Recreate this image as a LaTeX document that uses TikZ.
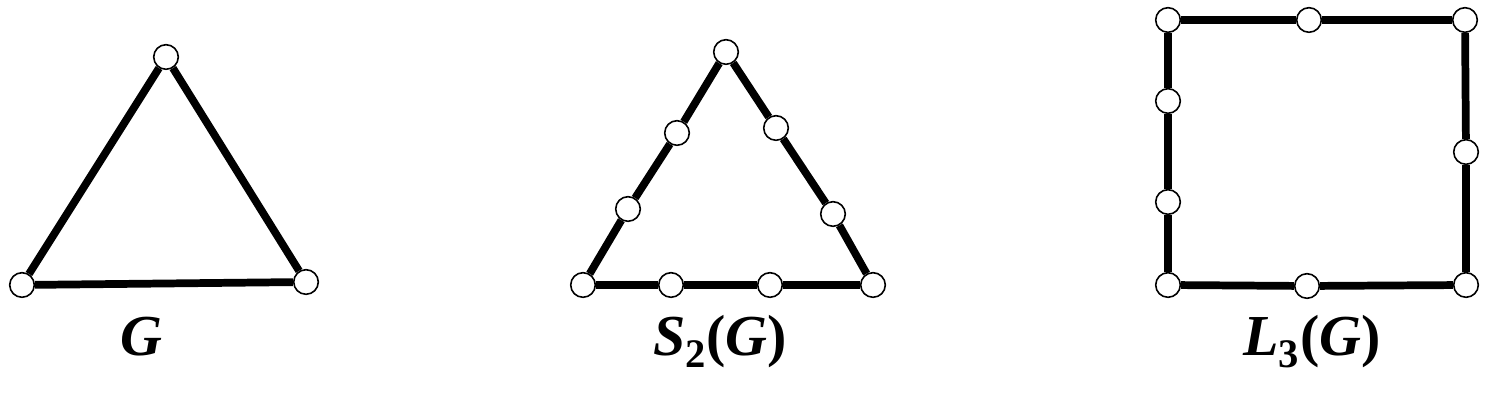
\documentclass[tikz,border=0pt]{standalone}
\usepackage{fontspec}
\setmainfont{Liberation Serif}
\usepackage{tikz}
\usetikzlibrary{positioning, backgrounds}
\tikzset{
vertex/.style = { circle, draw = black, fill = white, line width = 0.9pt, minimum size = 14pt, inner sep = 0pt },
edge/.style = { draw = black, line width = 4.4pt },
graph name/.style = { anchor = base, font = \fontsize{33}{38}\selectfont\bfseries },
}

\begin{document}
\begin{tikzpicture}[x = 0.02cm, y = -0.02cm]
      \useasboundingbox (0, 0) rectangle (1494, 404);
      % G
      \node[vertex] (g1) at (22, 285) {};
      \node[vertex] (g2) at (166, 57) {};
      \node[vertex] (g3) at (306, 282) {};
      \draw[edge] (g1) -- (g2) -- (g3) -- (g1);
      \node[graph name] (gname) at (141, 356) {\textit{G}};
      % S_2(G)
      \node[vertex] (s1) at (583, 285) {};
      \node[vertex] (s2) at (628, 209) {};
      \node[vertex] (s3) at (677, 133) {};
      \node[vertex] (s4) at (726, 52) {};
      \node[vertex] (s5) at (776, 128) {};
      \node[vertex] (s6) at (833, 214) {};
      \node[vertex] (s7) at (873, 285) {};
      \node[vertex] (s8) at (770, 285) {};
      \node[vertex] (s9) at (671, 285) {};
      \draw[edge] (s1) -- (s2) -- (s3) -- (s4) -- (s5) -- (s6) -- (s7) -- (s8) -- (s9) -- (s1);
      \node[graph name] (sname) at (720, 356) {\textit{S}\textsubscript{2}(\textit{G})};
      % L_3(G)
      \node[vertex] (l1) at (1168, 20) {};
      \node[vertex] (l2) at (1309, 20) {};
      \node[vertex] (l3) at (1465, 20) {};
      \node[vertex] (l4) at (1466, 152) {};
      \node[vertex] (l5) at (1466, 285) {};
      \node[vertex] (l6) at (1307, 286) {};
      \node[vertex] (l7) at (1168, 285) {};
      \node[vertex] (l8) at (1168, 202) {};
      \node[vertex] (l9) at (1168, 101) {};
      \draw[edge] (l1) -- (l2) -- (l3) -- (l4) -- (l5) -- (l6) -- (l7) -- (l8) -- (l9) -- (l1);
      \node[graph name] (lname) at (1312, 356) {\textit{L}\textsubscript{3}(\textit{G})};
\end{tikzpicture}
\end{document}
